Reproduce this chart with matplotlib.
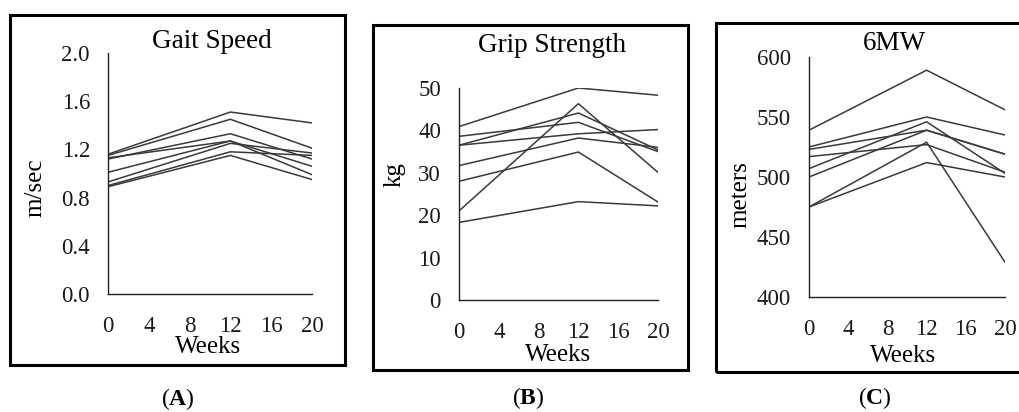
import numpy as np
import matplotlib
matplotlib.use("Agg")
import matplotlib.pyplot as plt
from matplotlib.patches import Rectangle

plt.rcParams['font.family'] = ['Liberation Serif', 'DejaVu Serif']
plt.rcParams['mathtext.fontset'] = 'custom'
plt.rcParams['mathtext.rm'] = 'Liberation Serif'
plt.rcParams['mathtext.bf'] = 'Liberation Serif:bold'

weeks = [0, 12, 20]
week_ticks = [0, 4, 8, 12, 16, 20]

# gait speed, m/sec, one row per participant (week 0, 12, 20)
gait = [
    [1.16, 1.51, 1.42],
    [1.15, 1.45, 1.21],
    [1.12, 1.33, 1.12],
    [1.13, 1.27, 1.06],
    [1.01, 1.27, 0.99],
    [0.93, 1.25, 1.17],
    [0.90, 1.18, 1.15],
    [0.89, 1.15, 0.95],
]

# grip strength, kg
grip = [
    [40.9, 50.0, 48.3],
    [21.0, 46.3, 30.1],
    [36.5, 44.1, 35.4],
    [38.6, 41.9, 35.0],
    [36.5, 39.2, 40.2],
    [31.7, 38.2, 36.0],
    [28.0, 34.9, 23.1],
    [18.3, 23.2, 22.2],
]

# six minute walk, meters
walk = [
    [539, 589, 556],
    [525, 550, 535],
    [523, 539, 519],
    [517, 527, 504],
    [507, 546, 503],
    [500, 539, 519],
    [475, 529, 429],
    [475, 512, 500],
]

W, H = 1020, 412
fig = plt.figure(figsize=(W / 100, H / 100), dpi=100)


def fx(x):
    return x / W


def fy(y):
    return 1 - y / H


def frame(x0, y0, x1, y1):
    fig.patches.append(Rectangle((fx(x0), fy(y1)), fx(x1) - fx(x0), fy(y0) - fy(y1),
                                 transform=fig.transFigure, fill=False,
                                 edgecolor='black', linewidth=2.2, clip_on=False))


def panel(box, data, ylim, yticks, ylabels, title, ylab, tpos, ypos, wpos, letter, lpos):
    x0, y0, x1, y1 = box
    ax = fig.add_axes([fx(x0), fy(y1), fx(x1) - fx(x0), fy(y0) - fy(y1)])
    for row in data:
        ax.plot(weeks, row, color='#3a3a3a', linewidth=1.1)
    ax.set_xlim(0, 20)
    ax.set_ylim(*ylim)
    ax.set_xticks(week_ticks)
    ax.set_yticks(yticks)
    ax.set_yticklabels(ylabels)
    for s in ['top', 'right']:
        ax.spines[s].set_visible(False)
    for s in ['left', 'bottom']:
        ax.spines[s].set_color('#222222')
        ax.spines[s].set_linewidth(1.0)
    ax.tick_params(length=0, labelsize=16.5, colors='#1a1a1a')
    ax.tick_params(axis='y', pad=13)
    ax.tick_params(axis='x', pad=16)
    fig.text(fx(tpos[0]), fy(tpos[1]), title, fontsize=19.5, ha='center', va='center')
    fig.text(fx(ypos[0]), fy(ypos[1]), ylab, fontsize=18, rotation=90, ha='center', va='center')
    fig.text(fx(wpos[0]), fy(wpos[1]), 'Weeks', fontsize=18, ha='center', va='center')
    fig.text(fx(lpos[0]), fy(lpos[1]), '($\\mathbf{' + letter + '}$)', fontsize=17,
             ha='center', va='center')
    return ax


frame(10, 15, 345, 365)
frame(373, 25, 688, 370)
frame(716, 23, 1030, 372)

panel((108, 53, 312, 294), gait, (0, 2.0), [0, 0.4, 0.8, 1.2, 1.6, 2.0],
      ['0.0', '0.4', '0.8', '1.2', '1.6', '2.0'],
      'Gait Speed', 'm/sec', (212, 42), (35, 188), (208, 347), 'A', (178, 399))
panel((459, 88, 658, 300), grip, (0, 50), [0, 10, 20, 30, 40, 50],
      ['0', '10', '20', '30', '40', '50'],
      'Grip Strength', 'kg', (552, 46), (395, 175), (558, 355), 'B', (528, 398))
panel((809, 57, 1005, 297), walk, (400, 600), [400, 450, 500, 550, 600],
      ['400', '450', '500', '550', '600'],
      '6MW', 'meters', (895, 44), (740, 195), (903, 356), 'C', (875, 398))

fig.savefig('out.png', dpi=100)
